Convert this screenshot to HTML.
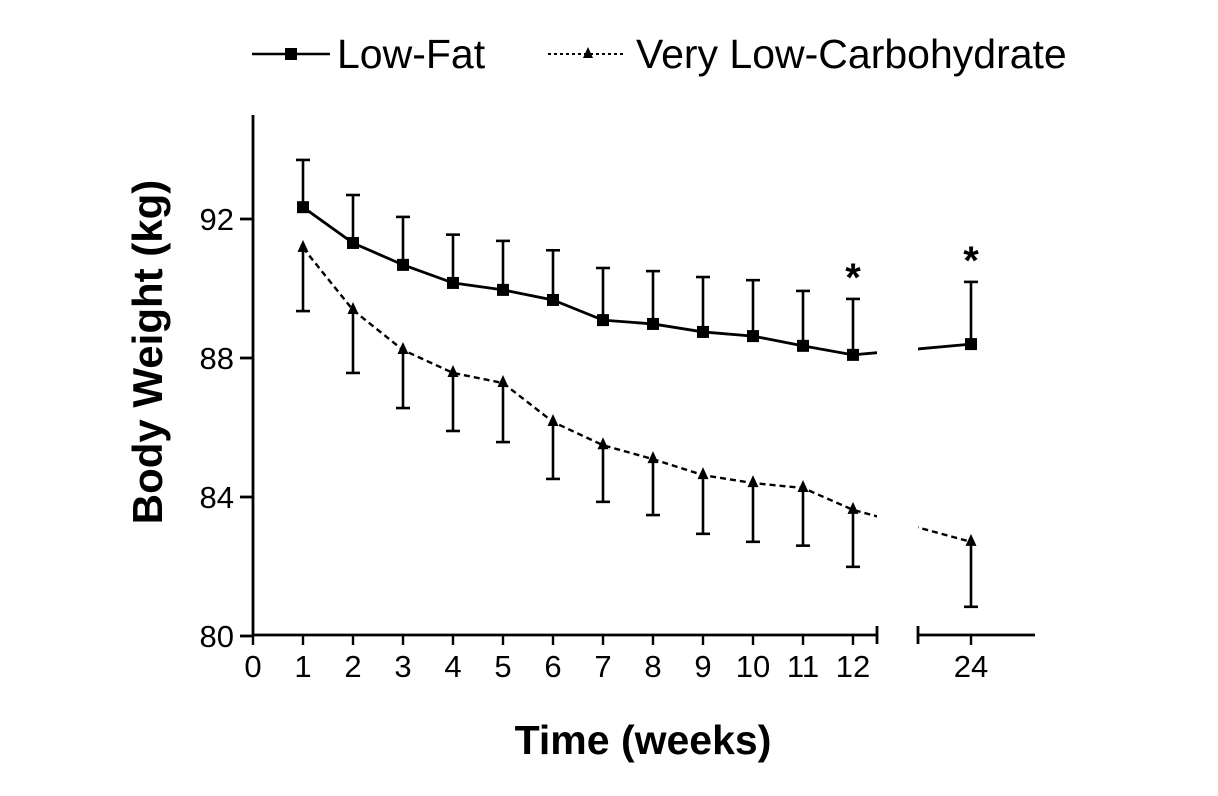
<!DOCTYPE html>
<html><head><meta charset="utf-8"><style>
html,body{margin:0;padding:0;background:#fff;}
svg{display:block;font-family:"Liberation Sans",Arial,sans-serif;}
</style></head><body>
<svg id="chart" width="1218" height="796" viewBox="0 0 1218 796">
<defs><clipPath id="brk"><rect x="0" y="0" width="877" height="796"/><rect x="918" y="0" width="300" height="796"/></clipPath></defs>
<g id="legend">
 <g>
  <line x1="252" y1="54" x2="330" y2="54" stroke="#000" stroke-width="2.6"/>
  <rect x="285" y="48" width="12" height="12" fill="#000"/>
  <text x="337" y="68" font-size="41" fill="#000">Low-Fat</text>
 </g>
 <g>
  <line x1="548" y1="54" x2="625" y2="54" stroke="#000" stroke-width="2" stroke-dasharray="3,3"/>
  <path d="M588 47 L593 58 L583 58 Z" fill="#000"/>
  <text x="636" y="68" font-size="41" fill="#000">Very Low-Carbohydrate</text>
 </g>
</g>
<g id="axes"></g>
<g id="series"></g>
<text transform="translate(162,352) rotate(-90)" text-anchor="middle" font-size="42" font-weight="bold">Body Weight (kg)</text>
<text x="643" y="754" text-anchor="middle" font-size="41" font-weight="bold">Time (weeks)</text>
</svg>
<script>
const weeks = [1,2,3,4,5,6,7,8,9,10,11,12,24];
const lowFat = [92.34,91.31,90.68,90.16,89.96,89.67,89.09,88.98,88.75,88.63,88.35,88.09,88.4];
const lowFatUpper = [93.7,92.69,92.06,91.55,91.37,91.1,90.59,90.5,90.33,90.24,89.93,89.7,90.19];
const vlc = [91.17,89.38,88.23,87.57,87.28,86.16,85.49,85.09,84.63,84.4,84.26,83.63,82.71];
const vlcLower = [89.35,87.57,86.56,85.9,85.58,84.52,83.86,83.48,82.94,82.71,82.6,81.99,80.84];
const yTicks = [80,84,88,92];
const xTicks = [0,1,2,3,4,5,6,7,8,9,10,11,12,24];
const sigWeeks = [12,24];

const NS="http://www.w3.org/2000/svg";
function Xl(w){ return w<=12 ? 253+50*w : 971+(w-24)*50; }
function Y(v){ return 219-(v-92)*34.75; }
function mk(tag,attrs,parent){const e=document.createElementNS(NS,tag);for(const k in attrs)e.setAttribute(k,attrs[k]);parent.appendChild(e);return e;}
const axes=document.getElementById('axes'), ser=document.getElementById('series');
const SW=2.8;

let e=mk('line',{x1:253,y1:115,x2:253,y2:636,stroke:'#000','stroke-width':SW},axes);


e=mk('line',{x1:253,y1:635,x2:877,y2:635,stroke:'#000','stroke-width':SW},axes);


mk('line',{x1:877,y1:626,x2:877,y2:644,stroke:'#000','stroke-width':SW},axes);
e=mk('line',{x1:918,y1:635,x2:1035,y2:635,stroke:'#000','stroke-width':SW},axes);


mk('line',{x1:918,y1:626,x2:918,y2:644,stroke:'#000','stroke-width':SW},axes);

yTicks.forEach(v=>{
  mk('line',{x1:240,y1:Y(v),x2:253,y2:Y(v),stroke:'#000','stroke-width':SW},axes);
  const t=mk('text',{x:234,y:Y(v)+11,'text-anchor':'end','font-size':31},axes);
  t.textContent=v;
  
  
});
xTicks.forEach(w=>{
  const x=Xl(w);
  mk('line',{x1:x,y1:635,x2:x,y2:645,stroke:'#000','stroke-width':2.4},axes);
  const t=mk('text',{x:x,y:677,'text-anchor':'middle','font-size':31},axes);
  t.textContent=w;
  
  
});

function ptsL(vals){return weeks.map((w,i)=>Xl(w)+','+Y(vals[i])).join(' ');}
e=mk('polyline',{points:ptsL(lowFat),fill:'none',stroke:'#000','stroke-width':2.8,'clip-path':'url(#brk)'},ser);


e=mk('polyline',{points:ptsL(vlc),fill:'none',stroke:'#000','stroke-width':2.4,'stroke-dasharray':'6,4','clip-path':'url(#brk)'},ser);



weeks.forEach((w,i)=>{
  const x=Xl(w);
  const g=mk('g',{},ser);
  
  
  mk('line',{x1:x,y1:Y(lowFat[i]),x2:x,y2:Y(lowFatUpper[i]),stroke:'#000','stroke-width':2.6},g);
  mk('line',{x1:x-7,y1:Y(lowFatUpper[i]),x2:x+7,y2:Y(lowFatUpper[i]),stroke:'#000','stroke-width':2.6},g);
  const g2=mk('g',{},ser);
  
  
  mk('line',{x1:x,y1:Y(vlc[i]),x2:x,y2:Y(vlcLower[i]),stroke:'#000','stroke-width':2.6},g2);
  mk('line',{x1:x-7,y1:Y(vlcLower[i]),x2:x+7,y2:Y(vlcLower[i]),stroke:'#000','stroke-width':2.6},g2);
  const r=mk('rect',{x:x-6,y:Y(lowFat[i])-6,width:12,height:12,fill:'#000'},ser);
  
  
  const yy=Y(vlc[i]);
  const p=mk('path',{d:`M${x} ${yy-8} L${x+5.5} ${yy+4} L${x-5.5} ${yy+4} Z`,fill:'#000'},ser);
  
  
});
sigWeeks.forEach(w=>{
  const i=weeks.indexOf(w);
  const t=mk('text',{x:Xl(w),y:Y(lowFatUpper[i])-8,'text-anchor':'middle','font-size':40,'font-weight':'bold'},ser);
  t.textContent='*';
  
  
});
</script>
</body></html>
